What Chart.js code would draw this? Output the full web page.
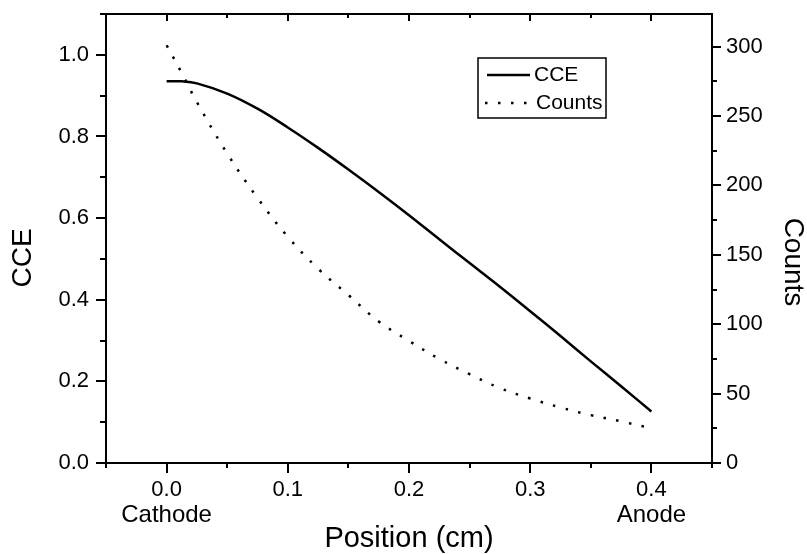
<!DOCTYPE html>
<html>
<head>
<meta charset="utf-8">
<script src="https://cdn.jsdelivr.net/npm/chart.js@4/dist/chart.umd.min.js"></script>
<style>
  body { margin: 0; background: #fff; }
  #wrap { width: 807px; height: 554px; position: relative; }
</style>
</head>
<body>
<div id="wrap"><canvas id="cceChart"></canvas></div>
<script>
// values
let ccePositions = [0, 0.0125, 0.025, 0.05, 0.075, 0.1, 0.125, 0.15, 0.175, 0.2, 0.225, 0.25, 0.275, 0.3, 0.325, 0.35, 0.375, 0.4];
let cceValues = [0.935, 0.935, 0.930, 0.905, 0.868, 0.822, 0.772, 0.719, 0.664, 0.607, 0.548, 0.490, 0.432, 0.372, 0.311, 0.249, 0.188, 0.126];

let countPositions = [0, 0.0125, 0.025, 0.05, 0.075, 0.1, 0.125, 0.15, 0.175, 0.2, 0.225, 0.25, 0.275, 0.3, 0.325, 0.35, 0.375, 0.395];
let countValues = [301, 281, 260, 223, 191, 163, 140, 121, 102, 88, 75, 64, 54, 46.5, 40, 34.5, 30, 26];

let xTickLabels = ['0.0', '0.1', '0.2', '0.3', '0.4'];
let xEndLabels = ['Cathode', 'Anode']; // under 0.0 and 0.4
let seriesNames = ['CCE', 'Counts'];

const FONT = "'Liberation Sans', Arial, sans-serif";

function toPoints(xs, ys) {
    return xs.map((x, i) => ({ x: x, y: ys[i] }));
}

// fixed box sizes so the plot area lands where the original has it
function fixBox(size, horizontal) {
    return s => {
        if (horizontal) s.height = size; else s.width = size;
        s.paddingTop = 0;
        s.paddingBottom = 0;
        s.paddingLeft = 0;
        s.paddingRight = 0;
    };
}

// ticks, frame, axis titles and legend, Origin style
const framePlugin = {
    id: 'frame',
    afterDraw(chart) {
        const ctx = chart.ctx;
        const a = chart.chartArea;
        const xs = chart.scales.x, ys = chart.scales.y, rs = chart.scales.y1;
        ctx.save();
        ctx.strokeStyle = '#000';
        ctx.lineWidth = 2;

        // top frame line
        ctx.beginPath();
        ctx.moveTo(a.left - 1, a.top);
        ctx.lineTo(a.right + 1, a.top);
        ctx.stroke();

        ctx.beginPath();
        xs.ticks.forEach(t => {
            const px = Math.round(xs.getPixelForValue(t.value));
            const major = t.label !== '';
            ctx.moveTo(px, a.bottom);
            ctx.lineTo(px, a.bottom + (major ? 10 : 5));
            ctx.moveTo(px, a.top);
            ctx.lineTo(px, a.top + (major ? 7 : 4));
        });
        ys.ticks.forEach(t => {
            const py = Math.round(ys.getPixelForValue(t.value));
            const major = t.label !== '';
            ctx.moveTo(a.left, py);
            ctx.lineTo(a.left - (major ? 10 : 6), py);
        });
        rs.ticks.forEach(t => {
            const py = Math.round(rs.getPixelForValue(t.value));
            const major = t.label !== '';
            ctx.moveTo(a.right, py);
            ctx.lineTo(a.right + (major ? 9 : 5), py);
        });
        ctx.stroke();

        // Cathode / Anode under the end ticks
        ctx.fillStyle = '#000';
        ctx.font = '24px ' + FONT;
        ctx.textAlign = 'center';
        ctx.textBaseline = 'middle';
        ctx.fillText(xEndLabels[0], xs.getPixelForValue(0), 515);
        ctx.fillText(xEndLabels[1], xs.getPixelForValue(0.4), 515);

        // vertical axis titles
        ctx.font = '28px ' + FONT;
        ctx.save();
        ctx.translate(23, 258);
        ctx.rotate(-Math.PI / 2);
        ctx.fillText('CCE', 0, 0);
        ctx.restore();
        ctx.save();
        ctx.translate(793, 262);
        ctx.rotate(Math.PI / 2);
        ctx.fillText('Counts', 0, 0);
        ctx.restore();

        // legend box
        const lx = a.left + 372, ly = a.top + 44;
        ctx.lineWidth = 1.5;
        ctx.strokeRect(lx, ly, 128, 60);
        ctx.lineWidth = 2.5;
        ctx.beginPath();
        ctx.moveTo(lx + 9, ly + 17);
        ctx.lineTo(lx + 52, ly + 17);
        ctx.stroke();
        ctx.setLineDash([2.5, 10.5]);
        ctx.beginPath();
        ctx.moveTo(lx + 7, ly + 45);
        ctx.lineTo(lx + 52, ly + 45);
        ctx.stroke();
        ctx.setLineDash([]);
        ctx.font = '21px ' + FONT;
        ctx.textAlign = 'left';
        ctx.fillText(seriesNames[0], lx + 56, ly + 17);
        ctx.fillText(seriesNames[1], lx + 58, ly + 45);
        ctx.restore();
    }
};

const ctx = document.getElementById('cceChart').getContext('2d');
const chart = new Chart(ctx, {
    type: 'line',
    data: {
        datasets: [{
            label: seriesNames[0],
            data: toPoints(ccePositions, cceValues),
            yAxisID: 'y',
            borderColor: '#000',
            borderWidth: 2.5,
            pointRadius: 0,
            tension: 0.4,
            fill: false
        }, {
            label: seriesNames[1],
            data: toPoints(countPositions, countValues),
            yAxisID: 'y1',
            borderColor: '#000',
            borderWidth: 2.5,
            borderDash: [2.5, 10.5],
            pointRadius: 0,
            tension: 0.4,
            fill: false
        }]
    },
    options: {
        responsive: true,
        maintainAspectRatio: false,
        animation: false,
        layout: { padding: { top: 14, left: 0, right: 0, bottom: 0 } },
        plugins: {
            legend: { display: false },
            tooltip: { enabled: false }
        },
        scales: {
            x: {
                type: 'linear',
                position: 'bottom',
                min: -0.05,
                max: 0.45,
                afterFit: fixBox(91, true),
                grid: { drawOnChartArea: false, drawTicks: false },
                border: { display: true, color: '#000', width: 2 },
                ticks: {
                    stepSize: 0.05,
                    autoSkip: false,
                    maxRotation: 0,
                    padding: 14,
                    color: '#000',
                    font: { family: FONT, size: 22 },
                    callback: v => {
                        const k = Math.round(v * 20);
                        return (k >= 0 && k % 2 === 0 && k / 2 < xTickLabels.length) ? xTickLabels[k / 2] : '';
                    }
                },
                title: {
                    display: true,
                    text: 'Position (cm)',
                    color: '#000',
                    font: { family: FONT, size: 29, lineHeight: 1 },
                    padding: { top: 0, bottom: 1 }
                }
            },
            y: {
                position: 'left',
                min: 0,
                max: 1.1,
                afterFit: fixBox(106, false),
                grid: { drawOnChartArea: false, drawTicks: false },
                border: { display: true, color: '#000', width: 2 },
                ticks: {
                    stepSize: 0.1,
                    autoSkip: false,
                    padding: 17,
                    color: '#000',
                    font: { family: FONT, size: 22 },
                    callback: v => {
                        const k = Math.round(v * 10);
                        return (k % 2 === 0 && k <= 10) ? (k / 10).toFixed(1) : '';
                    }
                }
            },
            y1: {
                position: 'right',
                min: 0,
                max: 323.5,
                afterFit: fixBox(95, false),
                grid: { drawOnChartArea: false, drawTicks: false },
                border: { display: true, color: '#000', width: 2 },
                ticks: {
                    stepSize: 25,
                    includeBounds: false,
                    autoSkip: false,
                    padding: 14,
                    color: '#000',
                    font: { family: FONT, size: 22 },
                    callback: v => (v % 50 === 0 && v <= 300) ? String(v) : ''
                }
            }
        }
    },
    plugins: [framePlugin]
});
</script>
</body>
</html>
